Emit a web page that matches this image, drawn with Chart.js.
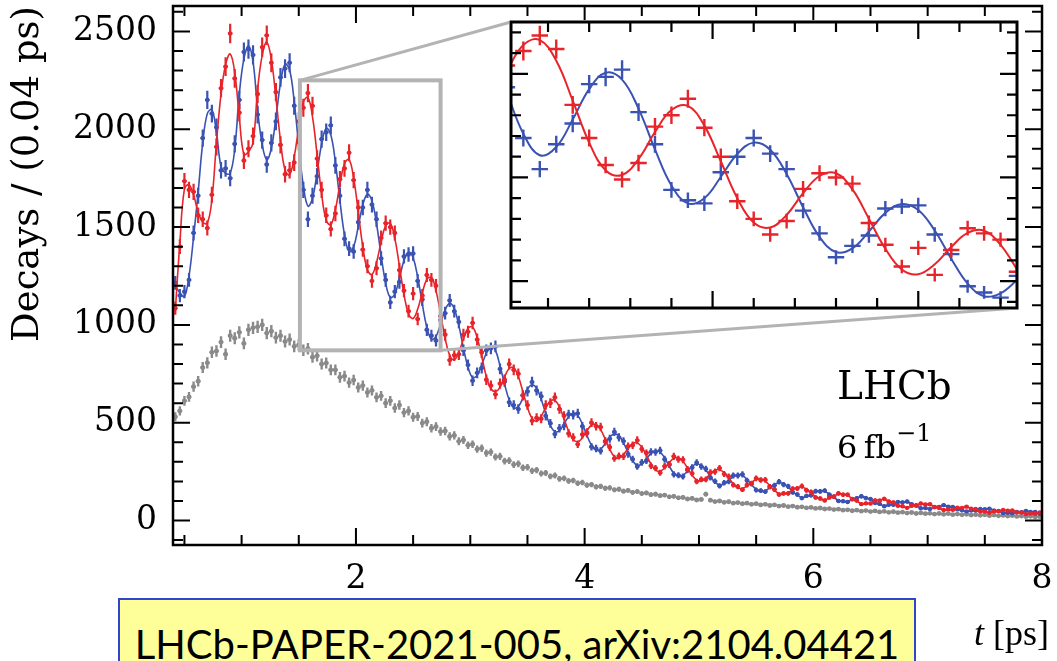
<!DOCTYPE html>
<html>
<head>
<meta charset="utf-8">
<script src="https://cdn.jsdelivr.net/npm/chart.js@4.4.1/dist/chart.umd.min.js"></script>
<style>
  html, body { margin: 0; padding: 0; background: #ffffff; }
  #wrap { position: relative; width: 1057px; height: 661px; overflow: hidden; background: #ffffff; }
  #mainChart { position: absolute; left: 0; top: 0; }
  #insetChart { position: absolute; left: 509px; top: 20px; background: #ffffff; }
  .lbl { position: absolute; font-family: 'DejaVu Serif', serif; color: #000; white-space: nowrap; line-height: 1; }
  #lhcb { left: 837px; top: 366px; font-size: 39px; }
  #lumi { left: 837px; top: 426px; font-size: 32px; }
  #lumi sup { font-size: 24px; position: relative; top: -5px; }
  #xtitle { left: 974px; top: 615px; font-size: 36px; font-family: 'Liberation Serif', serif; }
  #ref { position: absolute; left: 118px; top: 598px; width: 798px; height: 80px; box-sizing: border-box;
         background: #ffff99; border: 2px solid #3344cc; font-family: 'Lato', sans-serif; font-size: 40px;
         color: #000; text-align: center; line-height: 1; padding-top: 24px; white-space: nowrap; }
</style>
</head>
<body>
<div id="wrap">
  <canvas id="mainChart" width="1057" height="661"></canvas>
  <canvas id="insetChart" width="510" height="290"></canvas>
  <div class="lbl" id="lhcb">LHCb</div>
  <div class="lbl" id="lumi">6&#8201;fb<sup>&#8722;1</sup></div>
  <div class="lbl" id="xtitle"><i>t</i> [ps]</div>
  <div id="ref">LHCb-PAPER-2021-005, arXiv:2104.04421</div>
</div>
<script>
// ---- binning (bin centres: binStart + i*binWidth, 0.04 ps bins) ----
const binStart = 0.42;
const binWidth = 0.04;

// ---- fitted curves (B0s unmixed = red, mixed = blue) ----
const fitRed = [
 1070,1420,1695,1716,1665,1575,1525,1520,1640,1930,
 2180,2330,2385,2290,2060,1870,1885,1930,2203,2378,
 2445,2357,2161,1943,1791,1767,1859,2011,2139,2163,
 2063,1871,1668,1535,1512,1589,1719,1825,1845,1750,
 1578,1400,1282,1258,1319,1424,1507,1520,1442,1301,
 1156,1056,1033,1081,1164,1232,1243,1175,1057,932,
 844,822,860,928,983,989,934,838,737,675,
 660,681,735,777,780,736,659,578,522,508,
 534,577,611,614,580,520,457,414,403,423,
 459,487,491,465,416,364,327,319,337,368,
 393,397,375,334,289,258,252,269,296,318,
 321,303,268,232,207,202,216,238,257,260,
 245,218,188,167,164,176,195,210,213,202,
 178,154,137,134,143,158,169,171,160,141,
 122,109,107,114,126,135,136,128,113,98,
 87,84,90,99,106,107,100,90,78,70,
 68,73,79,84,85,80,71,61,56,54,
 57,63,67,68,63,57,49,44,42,45,
 49,52,52,49,44,39,35,34,36,39
];
const fitBlue = [
 1200,1165,1145,1250,1450,1680,1930,2080,2100,1985,
 1810,1775,1775,1900,2180,2360,2425,2345,2100,1922,
 1845,1903,2059,2234,2333,2303,2142,1913,1711,1607,
 1647,1779,1926,2005,1972,1832,1635,1461,1375,1400,
 1502,1613,1668,1634,1517,1356,1213,1140,1158,1239,
 1329,1372,1343,1244,1108,988,927,941,1005,1077,
 1110,1082,996,882,783,731,742,796,855,893,
 870,791,697,617,576,584,625,672,694,676,
 620,547,485,454,460,494,531,550,537,493,
 435,385,359,365,394,427,443,433,397,348,
 305,283,289,314,343,358,350,320,278,242,
 225,231,252,277,289,282,258,224,195,182,
 187,204,225,235,230,210,183,160,148,152,
 168,184,193,188,171,148,129,119,122,133,
 146,153,149,136,118,103,96,98,107,117,
 121,118,107,93,82,76,78,84,92,96,
 94,86,75,66,61,62,67,73,76,74,
 67,59,51,49,49,53,57,60,58,53,
 47,40,38,39,42,45,47,46,42,37
];

// ---- measured decays per 0.04 ps bin ----
const dataRed = [
 1085,1400,1735,1690,1680,1560,1540,1495,1665,1910,
 2210,2320,2490,2260,2085,1840,1900,1965,2180,2420,
 2480,2340,2190,1920,1770,1790,1830,2040,2110,2185,
 2120,1850,1690,1560,1490,1570,1745,1800,1880,1740,
 1600,1385,1300,1225,1290,1445,1520,1500,1470,1280,
 1175,1070,1160,1030,1150,1255,1230,1200,1045,950,
 820,845,850,950,965,1010,925,860,720,690,
 645,700,720,800,770,750,640,590,510,525,
 520,590,600,630,570,535,445,425,390,440,
 450,500,482,478,405,375,318,330,328,380,
 385,410,366,345,280,268,244,278,288,328,
 313,311,262,241,200,210,210,246,250,268,
 238,225,182,173,158,182,190,216,207,208,
 173,159,133,139,139,163,164,176,155,146,
 118,113,103,118,122,139,132,132,109,102,
 84,88,87,103,102,111,97,93,75,73,
 65,76,76,87,82,83,68,64,54,57,
 55,66,64,71,61,59,47,46,40,47,
 47,54,50,51,42,41,33,36,34,41
];
const dataBlue = [
 1215,1150,1170,1230,1470,1660,1955,2150,2080,2010,
 1790,1800,1750,1925,2150,2395,2410,2380,2075,1945,
 1820,1930,2040,2265,2310,2340,2120,1935,1690,1540,
 1660,1760,1950,1985,2020,1815,1660,1440,1390,1375,
 1525,1600,1690,1615,1540,1340,1230,1115,1170,1220,
 1350,1360,1365,1225,1130,975,945,920,1025,1060,
 1125,1070,1015,870,795,715,755,780,870,880,
 890,775,710,605,590,570,640,660,708,665,
 635,535,497,442,472,484,543,540,548,482,
 445,377,368,356,404,418,453,425,406,340,
 313,276,297,306,351,350,358,313,285,236,
 232,225,258,271,296,276,264,219,201,177,
 193,199,230,230,236,205,188,156,153,148,
 173,180,198,184,175,144,133,115,126,129,
 150,149,153,132,122,100,99,95,110,114,
 124,115,110,90,85,73,81,81,95,93,
 97,83,78,63,64,59,70,70,79,71,
 69,57,53,47,51,51,59,58,60,51,
 49,38,40,37,44,43,49,44,44,35
];
const dataGrey = [
 530,560,612,632,684,712,782,806,860,866,
 912,850,945,932,962,905,975,985,990,1000,
 958,968,935,945,915,925,890,898,870,878,
 835,842,800,805,770,770,732,738,705,718,
 680,690,655,665,630,637,600,612,575,590,
 552,560,528,532,498,505,472,480,455,458,
 430,435,405,412,385,390,365,370,345,350,
 325,328,304,306,286,290,270,272,254,258,
 240,243,226,230,213,216,202,205,191,194,
 181,184,172,175,165,167,157,160,150,154,
 144,148,138,141,132,135,127,130,121,124,
 116,118,110,113,105,108,135,104,97,100,
 93,96,89,92,86,89,83,86,80,83,
 77,80,74,77,71,74,68,70,65,67,
 62,64,59,61,56,58,53,55,50,53,
 48,51,46,49,44,47,42,45,40,43,
 38,41,36,39,35,37,33,36,32,35,
 30,33,29,32,28,30,27,29,25,28,
 24,26,23,25,21,23,20,22,18,20
];

// ---- axes ----
const xRange = [0.4, 8];
const yRange = [-125, 2630];
const xTickValues = [2, 4, 6, 8];
const xTickLabels = ['2', '4', '6', '8'];
const yTickValues = [0, 500, 1000, 1500, 2000, 2500];
const yTickLabels = ['0', '500', '1000', '1500', '2000', '2500'];
const yTitle = 'Decays / (0.04 ps)';
// zoomed window shown in the inset
const zoomT = [1.51, 2.74];
const zoomN = [870, 2250];
const insetXMajor = [2.0, 2.5];
const insetYMajor = [1000, 1500, 2000];

const RED = '#e8242b';
const BLUE = '#3a52b2';
const GREY = '#8a8a8a';
const SERIF = "'DejaVu Serif', serif";

function toXY(arr) {
  return arr.map((v, i) => ({ x: Math.round((binStart + i * binWidth) * 100) / 100, y: v }));
}

// error bars: sqrt(N) vertically, bin width horizontally
const errorBarPlugin = {
  id: 'errbars',
  afterDatasetDraw(chart, args) {
    const ds = chart.data.datasets[args.index];
    if (!ds.errorBars) return;
    const { ctx, chartArea: a, scales: { x, y } } = chart;
    ctx.save();
    ctx.beginPath();
    ctx.rect(a.left, a.top, a.right - a.left, a.bottom - a.top);
    ctx.clip();
    ctx.strokeStyle = ds.borderColor;
    ctx.lineWidth = ds.errorWidth;
    ctx.beginPath();
    ds.data.forEach(p => {
      const e = Math.sqrt(Math.max(p.y, 0));
      const px = x.getPixelForValue(p.x), py = y.getPixelForValue(p.y);
      ctx.moveTo(px, y.getPixelForValue(p.y + e));
      ctx.lineTo(px, y.getPixelForValue(p.y - e));
      ctx.moveTo(x.getPixelForValue(p.x - binWidth / 2), py);
      ctx.lineTo(x.getPixelForValue(p.x + binWidth / 2), py);
    });
    ctx.stroke();
    ctx.restore();
  }
};

function drawFrameAndTicks(chart, cfg) {
  const { ctx, chartArea: a, scales: { x, y } } = chart;
  ctx.save();
  ctx.strokeStyle = '#000';
  ctx.lineWidth = cfg.tickWidth;
  ctx.beginPath();
  const xt = (v, len) => {
    const p = x.getPixelForValue(v);
    ctx.moveTo(p, a.bottom); ctx.lineTo(p, a.bottom - len);
    ctx.moveTo(p, a.top); ctx.lineTo(p, a.top + len);
  };
  const yt = (v, len) => {
    const p = y.getPixelForValue(v);
    ctx.moveTo(a.left, p); ctx.lineTo(a.left + len, p);
    ctx.moveTo(a.right, p); ctx.lineTo(a.right - len, p);
  };
  cfg.xMajor.forEach(v => xt(v, cfg.majorLen));
  cfg.xMinor.forEach(v => xt(v, cfg.minorLen));
  cfg.yMajor.forEach(v => yt(v, cfg.majorLen));
  cfg.yMinor.forEach(v => yt(v, cfg.minorLen));
  ctx.stroke();
  ctx.lineWidth = cfg.frameWidth;
  ctx.strokeRect(a.left, a.top, a.right - a.left, a.bottom - a.top);
  ctx.restore();
}

function minorList(from, to, step, majors) {
  const out = [];
  for (let v = from; v <= to + 1e-9; v += step) {
    const r = Math.round(v * 1000) / 1000;
    if (!majors.some(m => Math.abs(m - r) < 1e-6)) out.push(r);
  }
  return out;
}

// layout of the inset plot area on the page (pixels)
const INSET_BOX = { left: 511, top: 22, right: 1017, bottom: 308 };

const mainDecor = {
  id: 'mainDecor',
  afterDatasetsDraw(chart) {
    const { ctx, scales: { x, y } } = chart;
    const l = x.getPixelForValue(zoomT[0]), r = x.getPixelForValue(zoomT[1]);
    const t = y.getPixelForValue(zoomN[1]), b = y.getPixelForValue(zoomN[0]);
    ctx.save();
    ctx.strokeStyle = '#b3b3b3';
    ctx.lineWidth = 3;
    ctx.beginPath();
    ctx.moveTo(l, t); ctx.lineTo(INSET_BOX.left, INSET_BOX.top);
    ctx.moveTo(r, b); ctx.lineTo(INSET_BOX.right, INSET_BOX.bottom);
    ctx.stroke();
    ctx.lineWidth = 4;
    ctx.strokeRect(l, t, r - l, b - t);
    ctx.restore();
  },
  afterDraw(chart) {
    drawFrameAndTicks(chart, {
      xMajor: xTickValues, xMinor: minorList(0.5, 7.5, 0.5, xTickValues),
      yMajor: yTickValues, yMinor: minorList(-100, 2600, 100, yTickValues),
      majorLen: 17, minorLen: 10, tickWidth: 2, frameWidth: 2.5
    });
  }
};

new Chart(document.getElementById('mainChart'), {
  type: 'line',
  data: {
    datasets: [
      { label: 'red data', data: toXY(dataRed), showLine: false, borderColor: RED, backgroundColor: RED,
        pointRadius: 2.2, pointBorderWidth: 0, errorBars: true, errorWidth: 2.2 },
      { label: 'red fit', data: toXY(fitRed), borderColor: RED, borderWidth: 1.6, pointRadius: 0, tension: 0.4, fill: false },
      { label: 'blue data', data: toXY(dataBlue), showLine: false, borderColor: BLUE, backgroundColor: BLUE,
        pointRadius: 2.2, pointBorderWidth: 0, errorBars: true, errorWidth: 2.2 },
      { label: 'blue fit', data: toXY(fitBlue), borderColor: BLUE, borderWidth: 1.6, pointRadius: 0, tension: 0.4, fill: false },
      { label: 'grey data', data: toXY(dataGrey), showLine: false, borderColor: GREY, backgroundColor: GREY,
        pointRadius: 2.4, pointBorderWidth: 0, errorBars: true, errorWidth: 2.4 }
    ]
  },
  options: {
    responsive: false, devicePixelRatio: 1, animation: false, events: [],
    layout: { padding: { left: 0, top: 6, right: 15, bottom: 0 } },
    plugins: { legend: { display: false }, tooltip: { enabled: false } },
    scales: {
      x: {
        type: 'linear', min: xRange[0], max: xRange[1],
        grid: { display: false, drawTicks: false }, border: { display: false },
        afterBuildTicks: s => { s.ticks = xTickValues.map(v => ({ value: v })); },
        afterFit: s => { s.height = 116; s.paddingLeft = 0; s.paddingRight = 0; },
        ticks: { autoSkip: false, maxRotation: 0, padding: 15, color: '#000',
                 font: { family: SERIF, size: 33 },
                 callback: (v, i) => xTickLabels[i] }
      },
      y: {
        type: 'linear', min: yRange[0], max: yRange[1],
        grid: { display: false, drawTicks: false }, border: { display: false },
        afterBuildTicks: s => { s.ticks = yTickValues.map(v => ({ value: v })); },
        afterFit: s => { s.width = 173; s.paddingTop = 0; s.paddingBottom = 0; },
        ticks: { autoSkip: false, padding: 16, color: '#000',
                 font: { family: SERIF, size: 33 },
                 callback: (v, i) => yTickLabels[i] },
        title: { display: true, text: yTitle, align: 'end', color: '#000',
                 font: { family: SERIF, size: 37 }, padding: { top: 6, bottom: 0 } }
      }
    }
  },
  plugins: [errorBarPlugin, mainDecor]
});

const insetDecor = {
  id: 'insetDecor',
  beforeDraw(chart) {
    const { ctx, width, height } = chart;
    ctx.save(); ctx.fillStyle = '#fff'; ctx.fillRect(0, 0, width, height); ctx.restore();
  },
  afterDraw(chart) {
    drawFrameAndTicks(chart, {
      xMajor: insetXMajor, xMinor: minorList(1.6, 2.7, 0.1, insetXMajor),
      yMajor: insetYMajor, yMinor: minorList(900, 2200, 100, insetYMajor),
      majorLen: 17, minorLen: 10, tickWidth: 2.2, frameWidth: 3
    });
  }
};

new Chart(document.getElementById('insetChart'), {
  type: 'line',
  data: {
    datasets: [
      { label: 'red data', data: toXY(dataRed), showLine: false, borderColor: RED, backgroundColor: RED,
        pointRadius: 0, errorBars: true, errorWidth: 2.4 },
      { label: 'red fit', data: toXY(fitRed), borderColor: RED, borderWidth: 2, pointRadius: 0, tension: 0.4, fill: false },
      { label: 'blue data', data: toXY(dataBlue), showLine: false, borderColor: BLUE, backgroundColor: BLUE,
        pointRadius: 0, errorBars: true, errorWidth: 2.4 },
      { label: 'blue fit', data: toXY(fitBlue), borderColor: BLUE, borderWidth: 2, pointRadius: 0, tension: 0.4, fill: false }
    ]
  },
  options: {
    responsive: false, devicePixelRatio: 1, animation: false, events: [],
    layout: { padding: 2 },
    plugins: { legend: { display: false }, tooltip: { enabled: false } },
    scales: {
      x: { type: 'linear', min: zoomT[0], max: zoomT[1], display: false },
      y: { type: 'linear', min: zoomN[0], max: zoomN[1], display: false }
    }
  },
  plugins: [errorBarPlugin, insetDecor]
});
</script>
</body>
</html>
